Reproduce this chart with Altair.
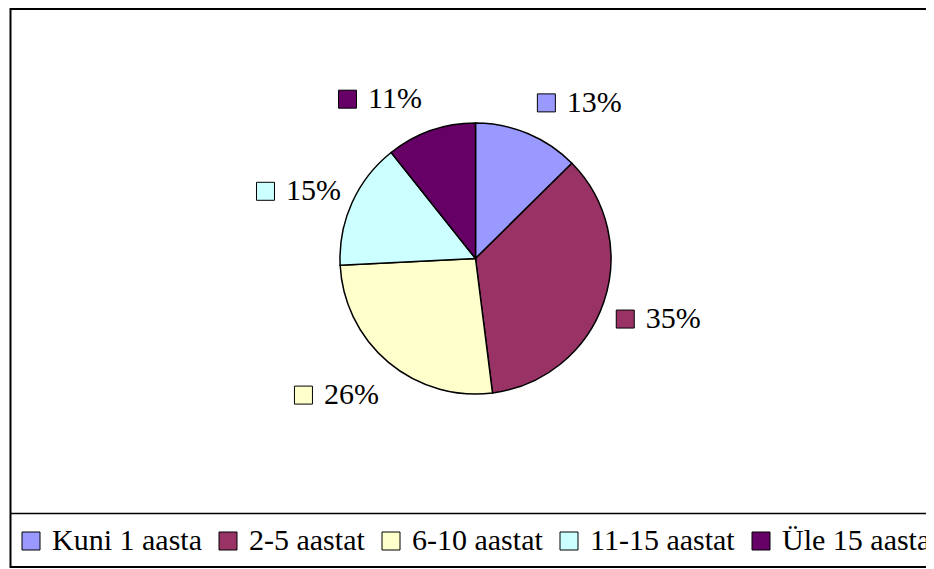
import altair as alt
import pandas as pd

categories = ["Kuni 1 aasta", "2-5 aastat", "6-10 aastat", "11-15 aastat", "Üle 15 aastat"]
values = [12.6, 35.4, 26.2, 15.1, 10.7]
colors = ["#9999FF", "#993366", "#FFFFCC", "#CCFFFF", "#660066"]

df = pd.DataFrame({"category": categories, "value": values, "order": list(range(len(categories)))})

CX, CY, R = 467.5, 250.5, 135.5
FONT = "Liberation Serif"

color_scale = alt.Scale(domain=categories, range=colors)

frame = alt.Chart(pd.DataFrame({"a": [0]})).mark_rect(
    fillOpacity=0, stroke="black", strokeWidth=2
).encode(x=alt.value(2.5), x2=alt.value(990), y=alt.value(1), y2=alt.value(559))

divider = alt.Chart(pd.DataFrame({"a": [0]})).mark_rule(
    stroke="black", strokeWidth=1.5
).encode(x=alt.value(2.5), x2=alt.value(990), y=alt.value(505.5))

arcs = alt.Chart(df).mark_arc(radius=R, stroke="black", strokeWidth=1.5).encode(
    theta=alt.Theta("value:Q", stack=True),
    order=alt.Order("order:Q"),
    color=alt.Color(
        "category:N",
        scale=color_scale,
        legend=alt.Legend(
            orient="none", legendX=8, legendY=518, direction="horizontal", columns=5,
            title=None, symbolType="square", symbolSize=324, symbolStrokeColor="black",
            symbolStrokeWidth=1, symbolOpacity=1, labelFont=FONT, labelFontSize=30,
            labelColor="black", labelOffset=6, columnPadding=11, padding=0, labelLimit=600,
        ),
    ),
    x=alt.value(CX),
    y=alt.value(CY),
)

base = (
    alt.Chart(df)
    .transform_window(cum="sum(value)", sort=[alt.SortField("order")], frame=[None, 0])
    .transform_joinaggregate(total="sum(value)")
    .transform_calculate(
        mid="2*PI*(datum.cum - datum.value/2)/datum.total",
        label="format(datum.value, '.0f') + '%'",
    )
    .transform_calculate(
        s="sin(datum.mid)",
        c="cos(datum.mid)",
    )
    .transform_calculate(
        left=f"datum.s > 0 ? {CX} + 141*datum.s + 7 : {CX} + 141*datum.s - 7 - 84",
        cy=f"{CY} - 173*datum.c + 4",
    )
    .transform_calculate(sqx="datum.left + 9.5", tx="datum.left + 30")
)

squares = base.mark_square(size=324, stroke="black", strokeWidth=1, opacity=1, filled=True).encode(
    x=alt.X("sqx:Q", scale=None, axis=None),
    y=alt.Y("cy:Q", scale=None, axis=None),
    color=alt.Color("category:N", scale=color_scale, legend=None),
)

texts = base.mark_text(align="left", baseline="middle", font=FONT, fontSize=30, color="black").encode(
    x=alt.X("tx:Q", scale=None, axis=None),
    y=alt.Y("cy:Q", scale=None, axis=None),
    text="label:N",
)

chart = (
    alt.layer(frame, divider, arcs, squares, texts)
    .properties(width=918, height=561, autosize=alt.AutoSizeParams(type="none"), padding=0)
    .configure_view(stroke=None)
)

chart.save("out.html", embed_options={"renderer": "svg", "actions": False})
